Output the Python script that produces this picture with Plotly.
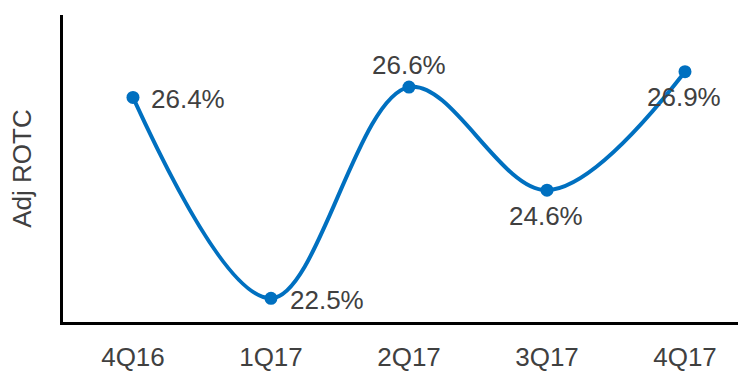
import plotly.graph_objects as go

categories = ["4Q16", "1Q17", "2Q17", "3Q17", "4Q17"]
values = [26.4, 22.5, 26.6, 24.6, 26.9]
labels = ["26.4%", "22.5%", "26.6%", "24.6%", "26.9%"]
# label placement relative to each point: (xanchor, xshift px, yshift px)
label_place = [("left", 16, -2), ("left", 17, -2), ("center", 0, 22), ("center", -1, -26), ("center", -1, -25)]

FONT = "Arial, Liberation Sans, sans-serif"
TXT = "#404040"
BLUE = "#0070C0"

fig = go.Figure()
fig.add_trace(go.Scatter(
    x=list(range(len(categories))), y=values,
    mode="lines+markers",
    line=dict(color=BLUE, width=4, shape="spline", smoothing=1.0),
    marker=dict(color=BLUE, size=13),
    cliponaxis=False, showlegend=False,
))

for i, (lab, (xa, xs, ys)) in enumerate(zip(labels, label_place)):
    fig.add_annotation(
        x=i, y=values[i], text=lab, showarrow=False,
        xanchor=xa, yanchor="middle", xshift=xs, yshift=ys,
        font=dict(family=FONT, size=26, color=TXT),
    )

fig.update_layout(
    width=738, height=372,
    margin=dict(l=63, r=0, t=15, b=47),
    paper_bgcolor="white", plot_bgcolor="white",
    font=dict(family=FONT, size=26, color=TXT),
)
fig.update_xaxes(
    range=[-0.507, 4.384],
    tickmode="array", tickvals=list(range(len(categories))), ticktext=categories,
    showgrid=False, zeroline=False,
    showline=True, linecolor="black", linewidth=2.5,
    ticks="outside", ticklen=10, tickcolor="rgba(0,0,0,0)",
    tickfont=dict(family=FONT, size=26, color=TXT),
)
fig.update_yaxes(
    range=[22.04, 28.0],
    showgrid=False, zeroline=False, showticklabels=False,
    showline=True, linecolor="black", linewidth=2.5,
    title=dict(text="Adj ROTC", font=dict(family=FONT, size=26, color=TXT), standoff=22),
)
fig.write_html("out.html")
